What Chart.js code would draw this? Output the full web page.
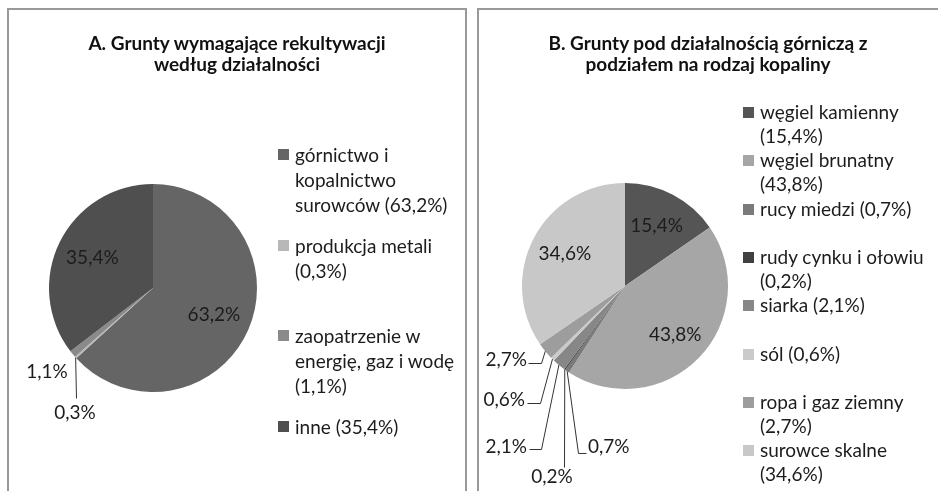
<!DOCTYPE html>
<html lang="pl">
<head>
<meta charset="utf-8">
<script src="https://cdn.jsdelivr.net/npm/chart.js@4.4.1/dist/chart.umd.min.js"></script>
<style>
  body { margin: 0; background: #fff; width: 938px; height: 491px; overflow: hidden; position: relative;
         font-family: Lato, 'Noto Sans', sans-serif; color: #1c1c1c; }
  .panel { position: absolute; top: 8px; height: 520px; border: 2px solid #999; box-sizing: border-box; }
  #panelA { left: 7px; width: 460px; }
  #panelB { left: 477px; width: 480px; }
  canvas { position: absolute; top: 0; }
  #chartA { left: 0; }
  #chartB { left: 470px; }
  .title { position: absolute; top: 32px; font-weight: bold; text-align: center; font-size: 19px; line-height: 21px; color: #111; }
  #titleA { left: 8px; width: 458px; }
  #titleB { left: 478px; width: 460px; }
  .legend { position: absolute; font-size: 19px; line-height: 25px; }
  .legend .item { position: absolute; left: 0; padding-left: 17px; }
  .legend .sw { position: absolute; left: 0; top: 7px; width: 11px; height: 11px; }
  #legendA { left: 278px; top: 142px; }
  #legendA .item { width: 172px; }
  #legendB { left: 743px; top: 100px; line-height: 24px; }
  #legendB .item { width: 176px; }
</style>
</head>
<body>
<div class="panel" id="panelA"></div>
<div class="panel" id="panelB"></div>
<canvas id="chartA" width="470" height="491"></canvas>
<canvas id="chartB" width="468" height="491"></canvas>
<div class="title" id="titleA">A. Grunty wymagające rekultywacji<br>według działalności</div>
<div class="title" id="titleB">B. Grunty pod działalnością górniczą z<br>podziałem na rodzaj kopaliny</div>
<div class="legend" id="legendA"></div>
<div class="legend" id="legendB"></div>
<script>
// A. grunty wymagające rekultywacji
const categoriesA = ['górnictwo i kopalnictwo surowców', 'produkcja metali', 'zaopatrzenie w energię, gaz i wodę', 'inne'];
const valuesA = [63.2, 0.3, 1.1, 35.4];
const colorsA = ['#656565', '#b8b8b8', '#8a8a8a', '#4f4f4f'];

// B. grunty pod działalnością górniczą
const categoriesB = ['węgiel kamienny', 'węgiel brunatny', 'rucy miedzi', 'rudy cynku i ołowiu', 'siarka', 'sól', 'ropa i gaz ziemny', 'surowce skalne'];
const valuesB = [15.4, 43.8, 0.7, 0.2, 2.1, 0.6, 2.7, 34.6];
const colorsB = ['#555555', '#a6a6a6', '#7a7a7a', '#404040', '#878787', '#cacaca', '#9d9d9d', '#c8c8c8'];

// label placement: r = inside at fraction of radius, otherwise offset from centre (+ leader line)
const placeA = [
    { r: 0.64 },
    { dx: -78, dy: 125, line: [[-77, 110]] },
    { dx: -106, dy: 84 },
    { r: 0.65 }
];
const placeB = [
    { r: 0.66 },
    { r: 0.68 },
    { dx: -37, dy: 161, align: 'left', line: [[-47, 167], [-39, 167]] },
    { dx: -73, dy: 191, line: [[-61, 181]] },
    { dx: -98, dy: 161, align: 'right', line: [[-84, 163], [-96, 163]] },
    { dx: -100, dy: 114, align: 'right', line: [[-85, 117], [-98, 117]] },
    { dx: -98, dy: 74, align: 'right', line: [[-84, 77], [-97, 77]] },
    { r: 0.66 }
];

const pct = v => v.toFixed(1).replace('.', ',') + '%';

const pieLabels = {
    id: 'pieLabels',
    afterDatasetsDraw(chart, args, opts) {
        const ctx = chart.ctx;
        const meta = chart.getDatasetMeta(0);
        const values = chart.data.datasets[0].data;
        ctx.save();
        ctx.font = '19px Lato, "Noto Sans", sans-serif';
        ctx.fillStyle = '#1c1c1c';
        ctx.strokeStyle = '#333';
        ctx.lineWidth = 1;
        ctx.textBaseline = 'middle';
        meta.data.forEach((arc, i) => {
            const p = arc.getProps(['x', 'y', 'startAngle', 'endAngle', 'outerRadius'], true);
            const mid = (p.startAngle + p.endAngle) / 2;
            const place = opts.place[i];
            let tx, ty;
            if (place.r) {
                tx = p.x + Math.cos(mid) * p.outerRadius * place.r;
                ty = p.y + Math.sin(mid) * p.outerRadius * place.r;
                ctx.textAlign = 'center';
            } else {
                tx = p.x + place.dx;
                ty = p.y + place.dy;
                ctx.textAlign = place.align || 'center';
                if (place.line) {
                    ctx.beginPath();
                    ctx.moveTo(p.x + Math.cos(mid) * p.outerRadius, p.y + Math.sin(mid) * p.outerRadius);
                    place.line.forEach(pt => ctx.lineTo(p.x + pt[0] + 0.5, p.y + pt[1] + 0.5));
                    ctx.stroke();
                }
            }
            ctx.fillText(pct(values[i]), tx, ty);
        });
        ctx.restore();
    }
};

function makePie(id, labels, values, colors, place, padding) {
    return new Chart(document.getElementById(id), {
        type: 'pie',
        data: {
            labels: labels,
            datasets: [{
                data: values,
                backgroundColor: colors,
                borderWidth: 0,
                hoverBorderWidth: 0,
                hoverOffset: 0
            }]
        },
        options: {
            responsive: false,
            animation: false,
            layout: { padding: padding },
            plugins: {
                legend: { display: false },
                tooltip: { enabled: false },
                pieLabels: { place: place }
            },
            events: []
        },
        plugins: [pieLabels]
    });
}

function makeLegend(id, labels, values, colors, slot) {
    const box = document.getElementById(id);
    labels.forEach((lab, i) => {
        const item = document.createElement('div');
        item.className = 'item';
        item.style.top = (i * slot) + 'px';
        item.innerHTML = '<span class="sw" style="background:' + colors[i] + '"></span>' + lab + ' (' + pct(values[i]) + ')';
        box.appendChild(item);
    });
}

makePie('chartA', categoriesA, valuesA, colorsA, placeA, { left: 49, top: 184, right: 213, bottom: 99 });
makePie('chartB', categoriesB, valuesB, colorsB, placeB, { left: 52, top: 183, right: 210, bottom: 102 });
makeLegend('legendA', categoriesA, valuesA, colorsA, 90.7);
makeLegend('legendB', categoriesB, valuesB, colorsB, 48.3);
</script>
</body>
</html>
